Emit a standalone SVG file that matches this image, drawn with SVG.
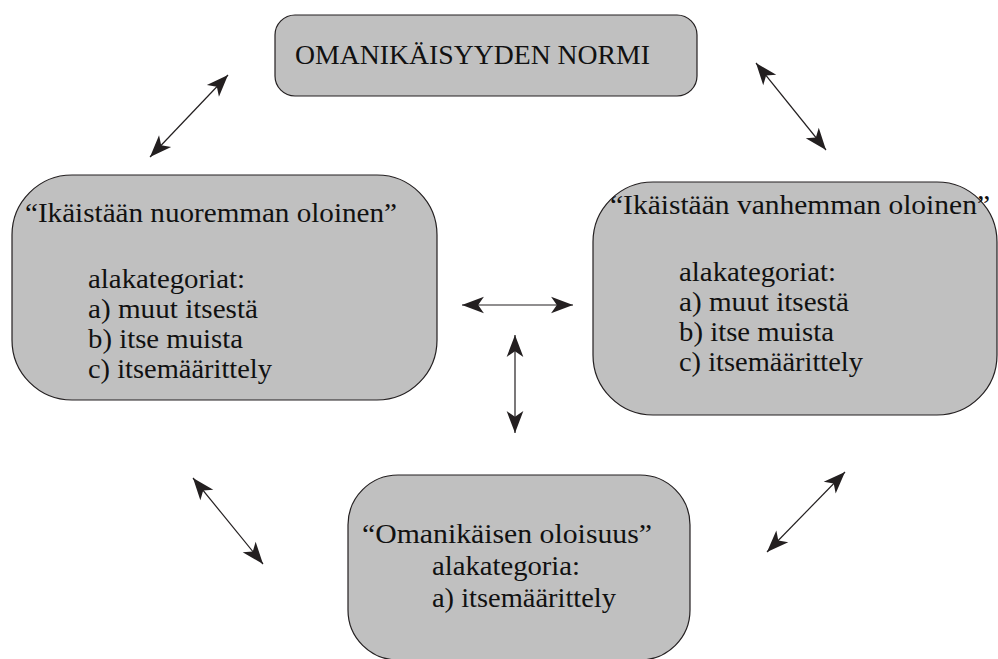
<svg xmlns="http://www.w3.org/2000/svg" width="998" height="659" viewBox="0 0 998 659">
<defs>
<style>
.box{fill:#c0c0c0;stroke:#231f20;stroke-width:1.2}
text{font-family:"Liberation Serif","Times New Roman",serif;font-size:27px;fill:#111}
.con line{stroke:#231f20;stroke-width:1.2;marker-start:url(#ah);marker-end:url(#ah)}
</style>
<marker id="ah" markerUnits="userSpaceOnUse" markerWidth="24" markerHeight="20" viewBox="-22 -9 23 18" refX="0" refY="0" orient="auto-start-reverse">
<path d="M0,0 L-21,-8 L-15.5,0 L-21,8 Z" fill="#231f20"/>
</marker>
</defs>
<rect width="998" height="659" fill="#fff"/>
<g id="node-normi">
<rect class="box" x="275" y="15" width="422" height="81" rx="20"/>
<text x="295" y="64" textLength="355" lengthAdjust="spacingAndGlyphs">OMANIKÄISYYDEN NORMI</text>
</g>
<g id="node-nuoremman">
<rect class="box" x="12" y="175" width="425" height="225" rx="60"/>
<text x="25" y="222" textLength="372" lengthAdjust="spacingAndGlyphs">“Ikäistään nuoremman oloinen”</text>
<text x="88" y="288" textLength="157" lengthAdjust="spacingAndGlyphs">alakategoriat:</text>
<text x="88" y="318" textLength="170" lengthAdjust="spacingAndGlyphs">a) muut itsestä</text>
<text x="88" y="348" textLength="155" lengthAdjust="spacingAndGlyphs">b) itse muista</text>
<text x="88" y="378" textLength="184" lengthAdjust="spacingAndGlyphs">c) itsemäärittely</text>
</g>
<g id="node-vanhemman">
<rect class="box" x="593" y="182" width="404" height="233" rx="60"/>
<text x="610" y="214" textLength="380" lengthAdjust="spacingAndGlyphs">“Ikäistään vanhemman oloinen”</text>
<text x="679" y="281" textLength="157" lengthAdjust="spacingAndGlyphs">alakategoriat:</text>
<text x="679" y="311" textLength="170" lengthAdjust="spacingAndGlyphs">a) muut itsestä</text>
<text x="679" y="341" textLength="155" lengthAdjust="spacingAndGlyphs">b) itse muista</text>
<text x="679" y="371" textLength="184" lengthAdjust="spacingAndGlyphs">c) itsemäärittely</text>
</g>
<g id="node-omanikaisen">
<rect class="box" x="348" y="475" width="342" height="185" rx="50"/>
<text x="362" y="543" textLength="290" lengthAdjust="spacingAndGlyphs">“Omanikäisen oloisuus”</text>
<text x="432" y="575" textLength="148" lengthAdjust="spacingAndGlyphs">alakategoria:</text>
<text x="432" y="607" textLength="184" lengthAdjust="spacingAndGlyphs">a) itsemäärittely</text>
</g>
<g id="connectors" class="con">
<line x1="150" y1="157" x2="228" y2="75"/>
<line x1="756" y1="63" x2="826" y2="150"/>
<line x1="462" y1="305" x2="573" y2="305"/>
<line x1="515" y1="335" x2="515" y2="433"/>
<line x1="193" y1="478" x2="263" y2="564"/>
<line x1="845" y1="472" x2="767" y2="552"/>
</g>
</svg>
